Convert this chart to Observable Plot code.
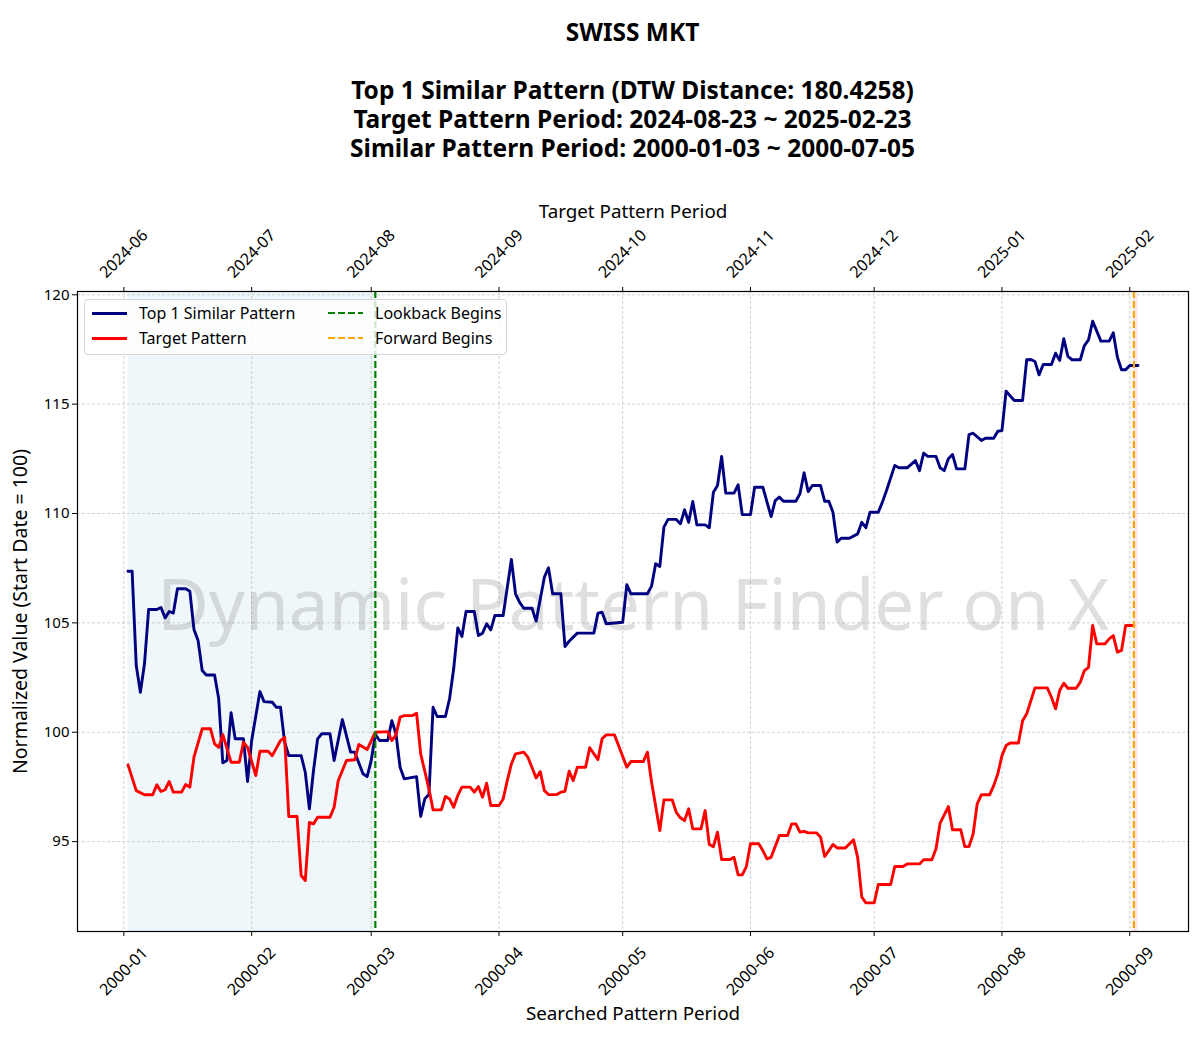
<!DOCTYPE html>
<html>
<head>
<meta charset="utf-8">
<script src="https://cdn.jsdelivr.net/npm/d3@7"></script>
<script src="https://cdn.jsdelivr.net/npm/@observablehq/plot@0.6"></script>
<style>
  body { margin: 0; background: #fff; font-family: "Noto Sans", "DejaVu Sans", sans-serif; }
  #wrap { position: relative; width: 1200px; height: 1037px; overflow: hidden; }
  #title { position: absolute; left: 77px; width: 1111px; top: 17px; text-align: center; font-weight: bold;
           font-size: 24.5px; line-height: 29px; color: #000; white-space: pre; }
  #chart { position: absolute; left: 0; top: 175px; }
  #legend { position: absolute; left: 84px; top: 299px; width: 423px; height: 56px; box-sizing: border-box;
            background: rgba(255,255,255,0.8); border: 1px solid #d6d6d6; border-radius: 4px; font-size: 16px; color: #000; }
  .item { position: absolute; height: 20px; display: flex; align-items: center; white-space: nowrap; }
  .sample { display: inline-block; width: 35px; height: 3px; margin-right: 12px; }
</style>
</head>
<body>
<div id="wrap">
  <div id="title"></div>
  <div id="chart"></div>
  <div id="legend"></div>
</div>
<script>
const titleLines = [
  "SWISS MKT",
  "",
  "Top 1 Similar Pattern (DTW Distance: 180.4258)",
  "Target Pattern Period: 2024-08-23 ~ 2025-02-23",
  "Similar Pattern Period: 2000-01-03 ~ 2000-07-05"
];

const monthTicks = ["2000-01-01","2000-02-01","2000-03-01","2000-04-01","2000-05-01","2000-06-01","2000-07-01","2000-08-01","2000-09-01"];
const bottomLabels = ["2000-01","2000-02","2000-03","2000-04","2000-05","2000-06","2000-07","2000-08","2000-09"];
const topLabels = ["2024-06","2024-07","2024-08","2024-09","2024-10","2024-11","2024-12","2025-01","2025-02"];
const yTicks = [95, 100, 105, 110, 115, 120];

const seriesNames = ["Top 1 Similar Pattern", "Target Pattern"];
const markerNames = ["Lookback Begins", "Forward Begins"];
const lookbackDate = "2000-03-02";
const forwardDate = "2000-09-02";
const lookbackShade = ["2000-01-02", "2000-03-02"];
const forwardShade = ["2000-09-02", "2000-09-03"];
const watermark = "Dynamic Pattern Finder on X";

const blueDates = ["2000-01-02","2000-01-03","2000-01-04","2000-01-05","2000-01-06","2000-01-07","2000-01-09","2000-01-10","2000-01-11","2000-01-12","2000-01-13","2000-01-14","2000-01-16","2000-01-17","2000-01-18","2000-01-19","2000-01-20","2000-01-21","2000-01-23","2000-01-24","2000-01-25","2000-01-26","2000-01-27","2000-01-28","2000-01-30","2000-01-31",
"2000-02-01","2000-02-03","2000-02-04","2000-02-06","2000-02-07","2000-02-08","2000-02-09","2000-02-10","2000-02-13","2000-02-14","2000-02-15","2000-02-16","2000-02-17","2000-02-18","2000-02-20","2000-02-21","2000-02-23","2000-02-25","2000-02-26","2000-02-28","2000-02-29",
"2000-03-01","2000-03-02","2000-03-03","2000-03-05","2000-03-06","2000-03-07","2000-03-08","2000-03-09","2000-03-12","2000-03-13","2000-03-14","2000-03-15","2000-03-16","2000-03-17","2000-03-19","2000-03-20","2000-03-21","2000-03-22","2000-03-23","2000-03-24","2000-03-26","2000-03-27","2000-03-28","2000-03-29","2000-03-30","2000-03-31",
"2000-04-02","2000-04-04","2000-04-05","2000-04-06","2000-04-07","2000-04-09","2000-04-10","2000-04-12","2000-04-13","2000-04-14","2000-04-16","2000-04-17","2000-04-18","2000-04-20","2000-04-24","2000-04-25","2000-04-26","2000-04-27",
"2000-05-01","2000-05-02","2000-05-03","2000-05-07","2000-05-08","2000-05-09","2000-05-10","2000-05-11","2000-05-12","2000-05-14","2000-05-15","2000-05-16","2000-05-17","2000-05-18","2000-05-19","2000-05-21","2000-05-22","2000-05-23","2000-05-24","2000-05-25","2000-05-26","2000-05-28","2000-05-29","2000-05-30",
"2000-06-01","2000-06-02","2000-06-04","2000-06-06","2000-06-07","2000-06-08","2000-06-09","2000-06-12","2000-06-13","2000-06-14","2000-06-15","2000-06-16","2000-06-18","2000-06-19","2000-06-20","2000-06-21","2000-06-22","2000-06-23","2000-06-25","2000-06-27","2000-06-28","2000-06-29","2000-06-30",
"2000-07-02","2000-07-03","2000-07-04","2000-07-06","2000-07-07","2000-07-09","2000-07-11","2000-07-12","2000-07-13","2000-07-14","2000-07-16","2000-07-17","2000-07-18","2000-07-19","2000-07-20","2000-07-21","2000-07-23","2000-07-24","2000-07-25","2000-07-27","2000-07-28","2000-07-30","2000-07-31",
"2000-08-01","2000-08-02","2000-08-04","2000-08-06","2000-08-07","2000-08-08","2000-08-09","2000-08-10","2000-08-11","2000-08-13","2000-08-14","2000-08-15","2000-08-16","2000-08-17","2000-08-18","2000-08-20","2000-08-21","2000-08-22","2000-08-23","2000-08-24","2000-08-25","2000-08-27","2000-08-28","2000-08-29","2000-08-30","2000-08-31",
"2000-09-01","2000-09-03"];
const blueValues = [107.36,107.36,103.05,101.83,103.13,105.61,105.61,105.70,105.23,105.52,105.45,106.56,106.56,106.45,104.70,104.19,102.82,102.62,102.62,101.53,98.60,98.71,100.89,99.70,99.70,97.75,
99.62,101.86,101.40,101.37,101.14,101.14,99.54,98.93,98.93,98.17,96.50,98.25,99.70,99.93,99.93,98.71,100.58,99.09,99.09,98.10,97.97,
98.71,99.90,99.62,99.62,100.53,99.93,98.40,97.87,97.97,96.15,96.96,97.15,101.14,100.72,100.72,101.53,102.90,104.77,104.38,105.52,105.52,104.42,104.53,104.96,104.68,105.34,
105.34,107.90,106.33,105.94,105.67,105.67,105.08,107.09,107.52,106.33,106.33,103.92,104.16,104.53,104.53,105.44,105.49,104.96,
105.03,106.75,106.33,106.33,106.68,107.70,107.58,109.38,109.73,109.73,109.53,110.17,109.60,110.55,109.48,109.48,109.35,110.97,111.28,112.61,110.93,110.93,111.31,109.95,
109.95,111.20,111.20,109.86,110.59,110.75,110.56,110.56,110.90,111.86,111.00,111.28,111.28,110.56,110.56,110.06,108.69,108.87,108.87,109.07,109.60,109.35,110.06,
110.06,110.52,111.05,112.20,112.09,112.09,112.42,111.96,112.76,112.61,112.61,112.09,111.96,112.50,112.70,112.04,112.04,113.61,113.67,113.34,113.44,113.44,113.76,
113.79,115.59,115.17,115.17,117.03,117.04,116.95,116.34,116.81,116.81,117.33,117.00,117.99,117.18,117.03,117.03,117.68,117.94,118.79,118.34,117.88,117.88,118.26,117.15,116.57,116.57,
116.77,116.77];

const redDates = ["2000-01-02","2000-01-04","2000-01-06","2000-01-08","2000-01-09","2000-01-10","2000-01-11","2000-01-12","2000-01-13","2000-01-15","2000-01-16","2000-01-17","2000-01-18","2000-01-20","2000-01-22","2000-01-23","2000-01-24","2000-01-25","2000-01-27","2000-01-29","2000-01-30","2000-01-31",
"2000-02-02","2000-02-03","2000-02-05","2000-02-06","2000-02-08","2000-02-09","2000-02-10","2000-02-12","2000-02-13","2000-02-14","2000-02-15","2000-02-16","2000-02-17","2000-02-20","2000-02-21","2000-02-22","2000-02-24","2000-02-26","2000-02-27","2000-02-29",
"2000-03-02","2000-03-05","2000-03-06","2000-03-07","2000-03-08","2000-03-09","2000-03-11","2000-03-12","2000-03-13","2000-03-15","2000-03-16","2000-03-18","2000-03-19","2000-03-20","2000-03-21","2000-03-22","2000-03-23","2000-03-25","2000-03-26","2000-03-27","2000-03-28","2000-03-29","2000-03-30",
"2000-04-01","2000-04-02","2000-04-03","2000-04-04","2000-04-05","2000-04-07","2000-04-08","2000-04-10","2000-04-11","2000-04-12","2000-04-13","2000-04-15","2000-04-16","2000-04-17","2000-04-18","2000-04-19","2000-04-20","2000-04-22","2000-04-23","2000-04-25","2000-04-26","2000-04-27","2000-04-29","2000-04-30",
"2000-05-02","2000-05-03","2000-05-06","2000-05-07","2000-05-08","2000-05-10","2000-05-11","2000-05-13","2000-05-14","2000-05-15","2000-05-16","2000-05-17","2000-05-18","2000-05-20","2000-05-21","2000-05-22","2000-05-23","2000-05-24","2000-05-25","2000-05-27","2000-05-28","2000-05-29","2000-05-30","2000-05-31",
"2000-06-01","2000-06-03","2000-06-04","2000-06-05","2000-06-06","2000-06-08","2000-06-10","2000-06-11","2000-06-12","2000-06-13","2000-06-14","2000-06-15","2000-06-17","2000-06-18","2000-06-19","2000-06-20","2000-06-21","2000-06-22","2000-06-24","2000-06-26","2000-06-27","2000-06-28","2000-06-29",
"2000-07-01","2000-07-02","2000-07-05","2000-07-06","2000-07-08","2000-07-09","2000-07-12","2000-07-13","2000-07-15","2000-07-16","2000-07-17","2000-07-19","2000-07-20","2000-07-22","2000-07-23","2000-07-24","2000-07-25","2000-07-26","2000-07-27","2000-07-29","2000-07-30","2000-07-31",
"2000-08-01","2000-08-02","2000-08-03","2000-08-05","2000-08-06","2000-08-07","2000-08-09","2000-08-12","2000-08-13","2000-08-14","2000-08-15","2000-08-16","2000-08-17","2000-08-19","2000-08-20","2000-08-21","2000-08-22","2000-08-23","2000-08-24","2000-08-26","2000-08-27","2000-08-28","2000-08-29","2000-08-30","2000-08-31",
"2000-09-02"];
const redValues = [98.51,97.33,97.14,97.14,97.60,97.29,97.37,97.75,97.26,97.26,97.61,97.49,98.86,100.16,100.16,99.47,99.31,99.89,98.63,98.63,99.54,99.31,
98.02,99.13,99.13,98.93,99.62,99.77,96.15,96.15,93.45,93.22,95.88,95.81,96.11,96.11,96.57,97.79,98.71,98.74,99.44,99.21,
100.00,100.03,99.62,99.88,100.69,100.76,100.76,100.87,99.01,97.41,96.45,96.45,97.06,96.95,96.57,97.11,97.49,97.49,97.26,97.52,97.03,97.67,96.65,
96.65,96.95,97.79,98.55,99.01,99.09,98.86,97.91,98.20,97.33,97.15,97.15,97.26,97.30,98.22,97.79,98.40,98.40,99.29,98.75,99.70,99.88,99.88,99.39,
98.40,98.66,98.66,99.09,97.72,95.51,96.91,96.91,96.34,96.09,95.96,96.50,95.58,95.58,96.42,94.87,94.77,95.43,94.18,94.18,94.28,93.48,93.48,93.86,
94.90,94.90,94.59,94.21,94.28,95.28,95.28,95.81,95.81,95.43,95.47,95.40,95.40,95.20,94.32,94.59,94.87,94.71,94.71,95.08,94.28,92.46,92.20,
92.20,93.04,93.04,93.86,93.86,93.98,93.98,94.17,94.17,94.67,95.84,96.60,95.54,95.54,94.77,94.77,95.35,96.73,97.14,97.14,97.56,98.10,
98.93,99.39,99.51,99.51,100.53,100.84,102.03,102.03,101.60,101.07,101.91,102.24,102.01,102.01,102.29,102.82,102.97,104.88,104.04,104.04,104.27,104.42,103.66,103.74,104.88,
104.88];

const seriesColors = ["#000080", "#ff0000"];
const markerColors = ["#008000", "#ffa500"];

// ---------- build ----------
const parse = s => new Date(s + "T00:00:00Z");
const blue = blueDates.map((d, i) => ({date: parse(d), value: blueValues[i]}));
const red = redDates.map((d, i) => ({date: parse(d), value: redValues[i]}));
const ticks = monthTicks.map(parse);

document.getElementById("title").textContent = titleLines.join("\n");

const gridStyle = {stroke: "#b8b8b8", strokeOpacity: 0.8, strokeWidth: 0.8, strokeDasharray: "3,2"};
const centered = {textAnchor: "middle", lineAnchor: "middle", fill: "black"};

const chart = Plot.plot({
  width: 1200,
  height: 862,
  marginTop: 116,
  marginBottom: 106,
  marginLeft: 77,
  marginRight: 12,
  style: {fontFamily: "'Noto Sans', 'DejaVu Sans', sans-serif", fontSize: "15px", background: "white", color: "black", overflow: "visible"},
  x: {type: "utc", domain: [new Date("1999-12-20T18:00:00Z"), new Date("2000-09-15T06:00:00Z")]},
  y: {domain: [90.89, 120.15]},
  marks: [
    Plot.rect([{a: parse(lookbackShade[0]), b: parse(lookbackShade[1])}], {x1: "a", x2: "b", fill: "#add8e6", fillOpacity: 0.2}),
    Plot.rect([{a: parse(forwardShade[0]), b: parse(forwardShade[1])}], {x1: "a", x2: "b", fill: "#f08080", fillOpacity: 0.2}),
    Plot.gridX(ticks, gridStyle),
    Plot.gridY(yTicks, gridStyle),
    Plot.text([watermark], {frameAnchor: "middle", dy: -4, fontSize: 71, fill: "#808080", fillOpacity: 0.25, textAnchor: "middle", lineAnchor: "middle"}),
    Plot.line(blue, {x: "date", y: "value", stroke: seriesColors[0], strokeWidth: 2.9, strokeLinejoin: "round", curve: "linear"}),
    Plot.line(red, {x: "date", y: "value", stroke: seriesColors[1], strokeWidth: 2.9, strokeLinejoin: "round", curve: "linear"}),
    Plot.ruleX([parse(lookbackDate)], {stroke: markerColors[0], strokeWidth: 2.2, strokeDasharray: "7,3"}),
    Plot.ruleX([parse(forwardDate)], {stroke: markerColors[1], strokeWidth: 2.2, strokeDasharray: "7,3"}),
    Plot.frame({stroke: "black", strokeWidth: 1.2}),
    Plot.axisX(ticks, {anchor: "bottom", tickSize: 5, tickFormat: () => "", label: null, stroke: "black"}),
    Plot.axisX(ticks, {anchor: "top", tickSize: 5, tickFormat: () => "", label: null, stroke: "black"}),
    Plot.axisY(yTicks, {anchor: "left", tickSize: 5, tickPadding: 3, fontSize: 15, label: null, stroke: "black", fill: "black"}),
    Plot.text(ticks, {x: d => d, text: (d, i) => bottomLabels[i], frameAnchor: "bottom", dy: 40, rotate: -45, fontSize: 16, ...centered}),
    Plot.text(ticks, {x: d => d, text: (d, i) => topLabels[i], frameAnchor: "top", dy: -37.5, rotate: -45, fontSize: 16, ...centered}),
    Plot.text(["Searched Pattern Period"], {frameAnchor: "bottom", dy: 82, fontSize: 18.8, ...centered}),
    Plot.text(["Target Pattern Period"], {frameAnchor: "top", dy: -80, fontSize: 18.8, ...centered}),
    Plot.text(["Normalized Value (Start Date = 100)"], {frameAnchor: "left", dx: -57, rotate: -90, fontSize: 19.5, ...centered})
  ]
});
document.getElementById("chart").appendChild(chart);

// legend
const legend = document.getElementById("legend");
const items = [
  {label: seriesNames[0], color: seriesColors[0], dashed: false, left: 7, top: 3},
  {label: seriesNames[1], color: seriesColors[1], dashed: false, left: 7, top: 28},
  {label: markerNames[0], color: markerColors[0], dashed: true, left: 243, top: 3},
  {label: markerNames[1], color: markerColors[1], dashed: true, left: 243, top: 28}
];
for (const it of items) {
  const div = document.createElement("div");
  div.className = "item";
  div.style.left = it.left + "px";
  div.style.top = it.top + "px";
  const s = document.createElement("span");
  s.className = "sample";
  if (it.dashed) {
    s.style.height = "2.2px";
    s.style.background = `repeating-linear-gradient(to right, ${it.color} 0 7px, transparent 7px 10px)`;
  } else {
    s.style.background = it.color;
  }
  div.appendChild(s);
  const t = document.createElement("span");
  t.textContent = it.label;
  div.appendChild(t);
  legend.appendChild(div);
}
</script>
</body>
</html>
